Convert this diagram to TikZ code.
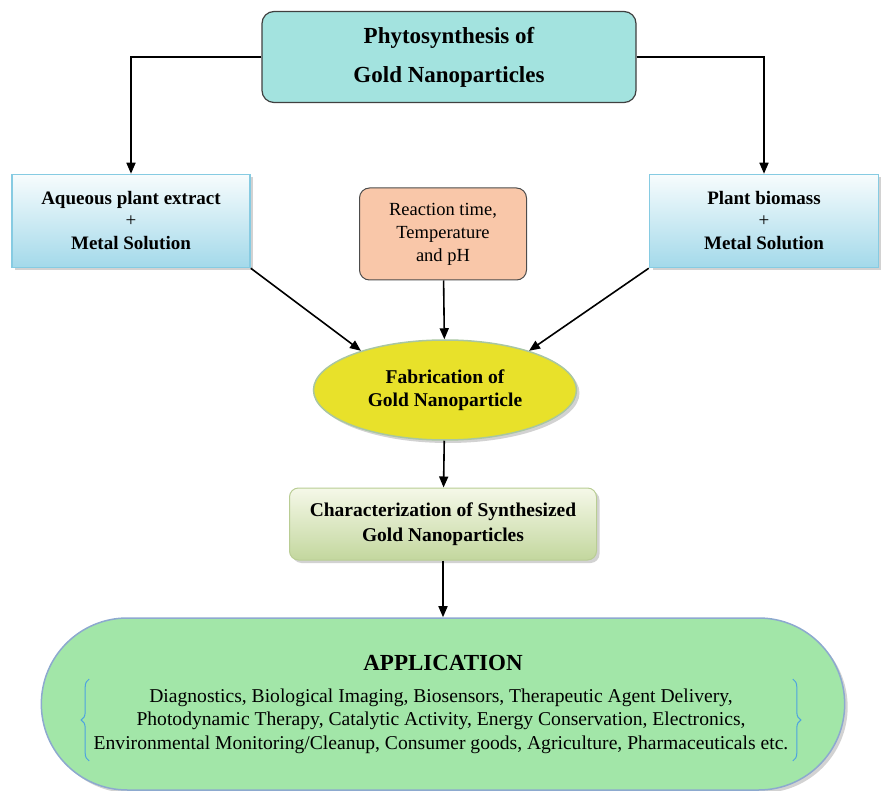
\documentclass[tikz,border=0pt]{standalone}
\usepackage{fontspec}
\setmainfont{Liberation Serif}
\usetikzlibrary{positioning}
\usetikzlibrary{shapes.geometric}
\usetikzlibrary{shapes.misc}
\usetikzlibrary{shadows}
\usetikzlibrary{arrows.meta}
\usetikzlibrary{decorations.pathreplacing}

\definecolor{titlefill}{HTML}{A3E3DF}
\definecolor{sourcetop}{HTML}{F7FCFD}
\definecolor{sourcebot}{HTML}{A3D9EA}
\definecolor{sourcedraw}{HTML}{86CBE2}
\definecolor{peach}{HTML}{F9C7A9}
\definecolor{goldfill}{HTML}{E8E12A}
\definecolor{golddraw}{HTML}{A9C6A2}
\definecolor{chartop}{HTML}{F5F8E8}
\definecolor{charbot}{HTML}{C3D79E}
\definecolor{chardraw}{HTML}{B9CD94}
\definecolor{appfill}{HTML}{A2E6A8}
\definecolor{appdraw}{HTML}{8DA9CF}
\definecolor{bracecol}{HTML}{4DA3E0}

\begin{document}
\begin{tikzpicture}
			[x=1pt,y=-1pt,
			 shade/.style={drop shadow={shadow xshift=3pt,shadow yshift=-3pt,fill=black!35}},
			 titlebox/.style={draw=black!75,line width=1.2pt,fill=titlefill,rounded corners=12pt,
			   minimum width=374pt,minimum height=91pt,align=center,
			   font=\fontsize{23}{39}\selectfont\bfseries},
			 sourcebox/.style={draw=sourcedraw,line width=1.5pt,top color=sourcetop,bottom color=sourcebot,
			   shade,minimum height=93pt,align=center,font=\fontsize{19}{23}\selectfont\bfseries},
			 condbox/.style={draw=black!70,line width=1pt,fill=peach,rounded corners=10pt,
			   minimum width=167pt,minimum height=92pt,align=center,font=\fontsize{18.5}{23}\selectfont},
			 goldell/.style={ellipse,draw=golddraw,line width=1.5pt,fill=goldfill,shade,
			   minimum width=263pt,minimum height=100pt,align=center,font=\fontsize{19.5}{23}\selectfont\bfseries},
			 charbox/.style={draw=chardraw,line width=1pt,top color=chartop,bottom color=charbot,shade,
			   rounded corners=9pt,minimum width=307pt,minimum height=72pt,align=center,
			   font=\fontsize{19.5}{25}\selectfont\bfseries},
			 appbox/.style={rounded rectangle,draw=appdraw,line width=1.5pt,fill=appfill,shade,
			   minimum width=810pt,minimum height=172pt},
			 conn/.style={line width=1.6pt,black,-{Triangle[length=11pt,width=9pt]}},
			 curly/.style={bracecol,line width=1pt,decorate,decoration={brace,amplitude=8pt}}]

			\useasboundingbox (0,0) rectangle (881,791);

			\node[titlebox] (title) at (449,57) {Phytosynthesis of\\Gold Nanoparticles};
			\node[sourcebox,minimum width=238pt] (aqueous) at (131,221) {Aqueous plant extract\\[-1pt]{\mdseries +}\\Metal Solution};
			\node[sourcebox,minimum width=229pt] (biomass) at (764,221) {Plant biomass\\[-1pt]{\mdseries +}\\Metal Solution};
			\node[condbox] (reaction) at (443,234) {Reaction time,\\Temperature\\and pH};
			\node[goldell] (fabrication) at (445,390) {Fabrication of\\Gold Nanoparticle};
			\node[charbox] (characterization) at (443,524) {Characterization of Synthesized\\Gold Nanoparticles};
			\node[appbox] (application) at (443,704) {};
			\node[font=\fontsize{23}{27}\selectfont\bfseries] (apptitle) at (443,663) {APPLICATION};
			\node[align=center,font=\fontsize{19.6}{23.5}\selectfont] (applist) at (441,721)
			  {Diagnostics, Biological Imaging, Biosensors, Therapeutic Agent Delivery,\\
			   Photodynamic Therapy, Catalytic Activity, Energy Conservation, Electronics,\\
			   Environmental Monitoring/Cleanup, Consumer goods, Agriculture, Pharmaceuticals etc.};

			\draw[conn] (title.west) -| (aqueous.north);
			\draw[conn] (title.east) -| (biomass.north);
			\draw[conn] (aqueous.south east) -- (fabrication.155);
			\draw[conn] (biomass.south west) -- (fabrication.25);
			\draw[conn] (reaction) -- (fabrication);
			\draw[conn] (fabrication) -- (characterization);
			\draw[conn] (characterization) -- (application);

			\draw[curly] ([xshift=-1pt,yshift=-4pt]applist.south west) -- ([xshift=-1pt,yshift=6pt]applist.north west);
			\draw[curly] ([xshift=1pt,yshift=6pt]applist.north east) -- ([xshift=1pt,yshift=-4pt]applist.south east);
		\end{tikzpicture}
\end{document}
